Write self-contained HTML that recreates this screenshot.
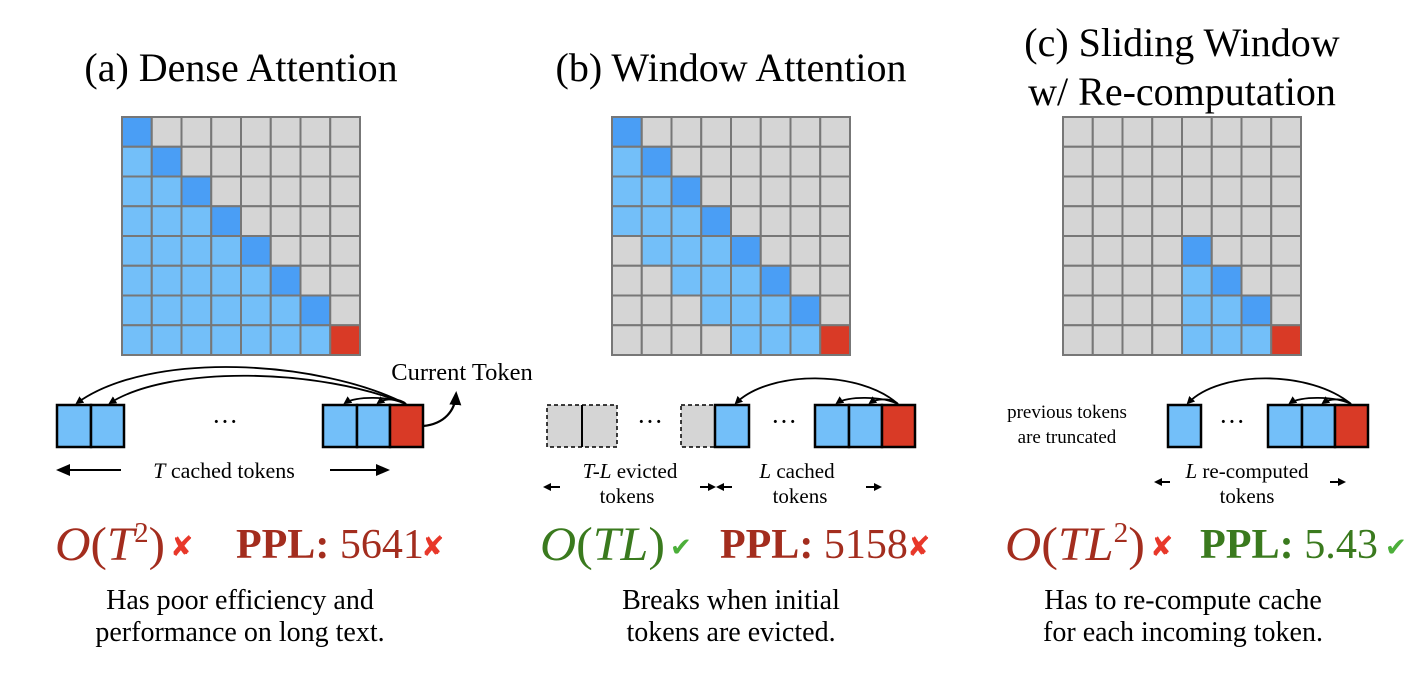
<!DOCTYPE html>
<html><head><meta charset="utf-8"><style>
html,body{margin:0;padding:0;background:#fff;}
svg{display:block;font-family:"Liberation Serif",serif;}
</style></head><body>
<svg id="s" width="1422" height="678" viewBox="0 0 1422 678" xmlns="http://www.w3.org/2000/svg">
<defs>
<marker id="ah" markerWidth="8" markerHeight="8" refX="6" refY="4" orient="auto" markerUnits="userSpaceOnUse"><path d="M0,0 L8,4 L0,8 z" fill="#000"/></marker>
<marker id="ah2" markerWidth="14" markerHeight="12" refX="10" refY="6" orient="auto" markerUnits="userSpaceOnUse"><path d="M0,0 L14,6 L0,12 z" fill="#000"/></marker>
</defs>
<g font-size="40" text-anchor="middle" fill="#000">
<text x="241" y="81">(a) Dense Attention</text>
<text x="731" y="81">(b) Window Attention</text>
<text x="1182" y="56">(c) Sliding Window</text>
<text x="1182" y="105">w/ Re-computation</text>
</g>
<g id="grids"></g>
<!-- (a) tokens -->
<g stroke="#000" stroke-width="2.5">
<rect x="57" y="405" width="34" height="42" fill="#73BFF9"/>
<rect x="91" y="405" width="33" height="42" fill="#73BFF9"/>
<rect x="323" y="405" width="34" height="42" fill="#73BFF9"/>
<rect x="357" y="405" width="33" height="42" fill="#73BFF9"/>
<rect x="390" y="405" width="33" height="42" fill="#D93A26"/>
</g>
<g fill="none" stroke="#000" stroke-width="1.8">
<path d="M406,404 C320,360 150,350 77,403" marker-end="url(#ah)"/>
<path d="M406,404 C320,368 170,365 110,403" marker-end="url(#ah)"/>
<path d="M406,404 C390,396 355,396 345,403" marker-end="url(#ah)"/>
<path d="M406,404 C400,398 385,398 378,403" marker-end="url(#ah)"/>
<path d="M423,426 C445,424 455,410 456,395" stroke-width="2.2" marker-end="url(#ah2)"/>
<path d="M121,470 L60,470" stroke-width="2" marker-end="url(#ah2)"/>
<path d="M330,470 L386,470" stroke-width="2" marker-end="url(#ah2)"/>
</g>
<text x="225" y="430" font-size="26" text-anchor="middle">···</text>
<text x="462" y="380" font-size="24.5" text-anchor="middle">Current Token</text>
<text x="224" y="478" font-size="22" text-anchor="middle"><tspan font-style="italic">T</tspan> cached tokens</text>
<!-- (b) tokens -->
<g stroke="#000" stroke-width="1.5" stroke-dasharray="4,3" fill="#D5D5D5">
<rect x="547" y="405" width="35" height="42"/>
<rect x="582" y="405" width="35" height="42"/>
<rect x="681" y="405" width="34" height="42"/>
</g>
<line x1="582" y1="405" x2="582" y2="447" stroke="#000" stroke-width="2"/>
<g stroke="#000" stroke-width="2.5">
<rect x="715" y="405" width="34" height="42" fill="#73BFF9"/>
<rect x="815" y="405" width="34" height="42" fill="#73BFF9"/>
<rect x="849" y="405" width="33" height="42" fill="#73BFF9"/>
<rect x="882" y="405" width="33" height="42" fill="#D93A26"/>
</g>
<g fill="none" stroke="#000" stroke-width="1.8">
<path d="M898,404 C860,370 770,370 736,403" marker-end="url(#ah)"/>
<path d="M898,404 C882,396 847,396 837,403" marker-end="url(#ah)"/>
<path d="M898,404 C892,398 877,398 870,403" marker-end="url(#ah)"/>
<path d="M560,487 L545,487" stroke-width="2" marker-end="url(#ah)"/>
<path d="M700,487 L714,487" stroke-width="2" marker-end="url(#ah)"/>
<path d="M732,487 L718,487" stroke-width="2" marker-end="url(#ah)"/>
<path d="M866,487 L880,487" stroke-width="2" marker-end="url(#ah)"/>
</g>
<text x="650" y="430" font-size="26" text-anchor="middle">···</text>
<text x="784" y="430" font-size="26" text-anchor="middle">···</text>
<g font-size="21" text-anchor="middle">
<text x="630" y="478"><tspan font-style="italic">T-L</tspan> evicted</text>
<text x="627" y="503">tokens</text>
<text x="797" y="478"><tspan font-style="italic">L</tspan> cached</text>
<text x="800" y="503">tokens</text>
</g>
<!-- (c) tokens -->
<g stroke="#000" stroke-width="2.5">
<rect x="1168" y="405" width="33" height="42" fill="#73BFF9"/>
<rect x="1268" y="405" width="34" height="42" fill="#73BFF9"/>
<rect x="1302" y="405" width="33" height="42" fill="#73BFF9"/>
<rect x="1335" y="405" width="33" height="42" fill="#D93A26"/>
</g>
<g fill="none" stroke="#000" stroke-width="1.8">
<path d="M1351,404 C1310,370 1220,370 1188,403" marker-end="url(#ah)"/>
<path d="M1351,404 C1335,396 1300,396 1290,403" marker-end="url(#ah)"/>
<path d="M1351,404 C1345,398 1330,398 1323,403" marker-end="url(#ah)"/>
<path d="M1170,482 L1156,482" stroke-width="2" marker-end="url(#ah)"/>
<path d="M1330,482 L1344,482" stroke-width="2" marker-end="url(#ah)"/>
</g>
<text x="1232" y="430" font-size="26" text-anchor="middle">···</text>
<g font-size="19" text-anchor="middle">
<text x="1067" y="418">previous tokens</text>
<text x="1067" y="443">are truncated</text>
</g>
<g font-size="21" text-anchor="middle">
<text x="1247" y="478"><tspan font-style="italic">L</tspan> re-computed</text>
<text x="1247" y="503">tokens</text>
</g>
<!-- formulas -->
<g font-size="42">
<text x="55" y="560" fill="#A32D1E" font-size="48" font-style="italic" textLength="110" lengthAdjust="spacingAndGlyphs">O<tspan font-style="normal">(</tspan>T<tspan font-size="28" dy="-18" font-style="normal">2</tspan><tspan dy="18" font-style="normal">)</tspan></text>
<text x="170" y="556" fill="#E8382A" font-size="28" font-family="DejaVu Sans">✘</text>
<text x="236" y="558" fill="#A32D1E"><tspan font-weight="bold">PPL:</tspan> 5641</text>
<text x="421" y="556" fill="#E8382A" font-size="28" font-family="DejaVu Sans">✘</text>
<text x="540" y="560" fill="#3A7A1E" font-size="48" font-style="italic" textLength="125" lengthAdjust="spacingAndGlyphs">O<tspan font-style="normal">(</tspan>TL<tspan font-style="normal">)</tspan></text>
<text x="670" y="556" fill="#4CAF3A" font-size="26" font-family="DejaVu Sans">✔</text>
<text x="720" y="558" fill="#A32D1E"><tspan font-weight="bold">PPL:</tspan> 5158</text>
<text x="907" y="556" fill="#E8382A" font-size="28" font-family="DejaVu Sans">✘</text>
<text x="1005" y="560" fill="#A32D1E" font-size="48" font-style="italic" textLength="140" lengthAdjust="spacingAndGlyphs">O<tspan font-style="normal">(</tspan>TL<tspan font-size="28" dy="-18" font-style="normal">2</tspan><tspan dy="18" font-style="normal">)</tspan></text>
<text x="1150" y="556" fill="#E8382A" font-size="28" font-family="DejaVu Sans">✘</text>
<text x="1200" y="558" fill="#3A7A1E" textLength="178" lengthAdjust="spacingAndGlyphs"><tspan font-weight="bold">PPL:</tspan> 5.43</text>
<text x="1385" y="556" fill="#4CAF3A" font-size="26" font-family="DejaVu Sans">✔</text>
</g>
<g font-size="28" text-anchor="middle">
<text x="240" y="609">Has poor efficiency and</text>
<text x="240" y="641">performance on long text.</text>
<text x="731" y="609">Breaks when initial</text>
<text x="731" y="641">tokens are evicted.</text>
<text x="1183" y="609">Has to re-compute cache</text>
<text x="1183" y="641">for each incoming token.</text>
</g>
</svg>
<script>
var g=document.getElementById('grids'),ns='http://www.w3.org/2000/svg';
function grid(x0,f){var c=29.75,y0=117;
for(var r=0;r<8;r++)for(var k=0;k<8;k++){var t=f(r,k),col=t==3?'#D93A26':t==2?'#4A9EF5':t==1?'#73BFF9':'#D5D5D5';
var e=document.createElementNS(ns,'rect');e.setAttribute('x',x0+k*c);e.setAttribute('y',y0+r*c);e.setAttribute('width',c);e.setAttribute('height',c);
e.setAttribute('fill',col);e.setAttribute('stroke','#777');e.setAttribute('stroke-width','2');g.appendChild(e);}}
function base(r,k){if(r==7&&k==7)return 3;if(r==k)return 2;if(k<r)return 1;return 0;}
grid(122,base);
grid(612,function(r,k){var b=base(r,k);if(b==1&&r-k>3)return 0;return b;});
grid(1063,function(r,k){if(r<4||k<4)return 0;return base(r,k);});
</script>
</body></html>
